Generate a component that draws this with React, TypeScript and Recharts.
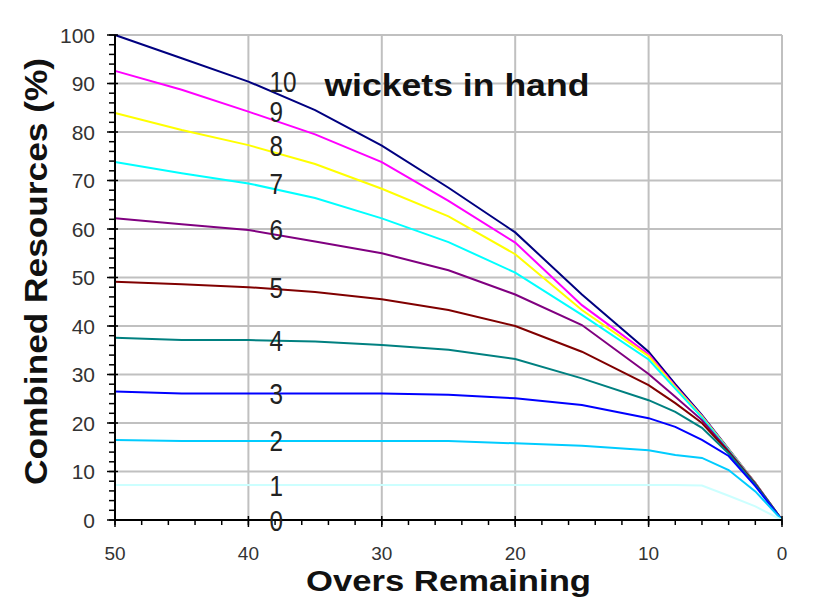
import React from "react"
import { LineChart, Line, XAxis, YAxis, ReferenceLine, ReferenceDot } from "recharts"

// overs remaining at which the curves were read
const overs = [50, 45, 40, 35, 30, 25, 20, 15, 10, 8, 6, 4, 2, 0]

// combined resources (%) by wickets in hand
const w10 = [100, 95.2, 90.4, 84.5, 77.2, 68.5, 59.3, 46.5, 34.7, 28.0, 21.6, 14.6, 7.6, 0]
const w9 = [92.6, 88.7, 84.2, 79.5, 73.8, 65.8, 57.2, 44.3, 34.2, 27.6, 21.4, 14.5, 7.6, 0]
const w8 = [83.9, 80.4, 77.3, 73.4, 68.3, 62.6, 54.8, 43.3, 33.8, 27.4, 21.3, 14.5, 7.6, 0]
const w7 = [73.8, 71.5, 69.4, 66.4, 62.2, 57.3, 51.0, 42.3, 33.1, 27.1, 21.1, 14.4, 7.5, 0]
const w6 = [62.2, 61.0, 59.8, 57.4, 55.0, 51.5, 46.5, 40.2, 30.1, 25.4, 20.6, 14.2, 7.5, 0]
const w5 = [49.1, 48.6, 48.0, 47.0, 45.5, 43.3, 40.0, 34.7, 27.8, 24.1, 20.0, 14.0, 7.4, 0]
const w4 = [37.6, 37.1, 37.1, 36.8, 36.1, 35.1, 33.2, 29.2, 24.7, 22.3, 19.0, 13.7, 7.3, 0]
const w3 = [26.5, 26.1, 26.1, 26.1, 26.1, 25.8, 25.1, 23.7, 21.0, 19.2, 16.5, 13.2, 7.0, 0]
const w2 = [16.5, 16.3, 16.3, 16.3, 16.3, 16.3, 15.8, 15.3, 14.4, 13.4, 12.8, 10.3, 5.9, 0]
const w1 = [7.2, 7.2, 7.2, 7.2, 7.2, 7.2, 7.2, 7.2, 7.2, 7.2, 7.1, 5.0, 2.8, 0]

const xTickLabels = [50, 40, 30, 20, 10, 0]
const yTickLabels = [0, 10, 20, 30, 40, 50, 60, 70, 80, 90, 100]

const series = [
  { key: "w10", label: "10", values: w10, color: "#000080" },
  { key: "w9", label: "9", values: w9, color: "#FF00FF" },
  { key: "w8", label: "8", values: w8, color: "#FFFF00" },
  { key: "w7", label: "7", values: w7, color: "#00FFFF" },
  { key: "w6", label: "6", values: w6, color: "#800080" },
  { key: "w5", label: "5", values: w5, color: "#800000" },
  { key: "w4", label: "4", values: w4, color: "#008080" },
  { key: "w3", label: "3", values: w3, color: "#0000FF" },
  { key: "w2", label: "2", values: w2, color: "#00CCFF" },
  { key: "w1", label: "1", values: w1, color: "#CCFFFF" },
]

const data = overs.map((o, i) => {
  const row: Record<string, number> = { overs: o }
  series.forEach((s) => {
    row[s.key] = s.values[i]
  })
  return row
})

const FONT = "'Liberation Sans', Arial, sans-serif"
const LABEL_AT = 40
const labelIndex = overs.indexOf(LABEL_AT)

const xMinor = Array.from({ length: 26 }, (_, i) => i * 2)
const yMinor = Array.from({ length: 51 }, (_, i) => i * 2)

// tick label props: y sits tickSize + tickMargin below the axis
function XTick(props: any) {
  const { x, y, payload } = props
  if (!xTickLabels.includes(payload.value)) return <g />
  const axisY = y - 7
  return (
    <g>
      <line x1={x} x2={x} y1={axisY - 4} y2={axisY + 7} stroke="#000" strokeWidth={1.5} />
      <text x={x} y={y + 33} textAnchor="middle" fontSize={19} fill="#333" fontFamily={FONT}>
        {payload.value}
      </text>
    </g>
  )
}

function YTick(props: any) {
  const { x, y, payload } = props
  if (!yTickLabels.includes(payload.value)) return <g />
  const axisX = x + 20
  return (
    <g>
      <line x1={axisX - 8} x2={axisX + 3} y1={y} y2={y} stroke="#000" strokeWidth={1.5} />
      <text x={x} y={y} dy="0.36em" textAnchor="end" fontSize={21} fill="#333" fontFamily={FONT}>
        {payload.value}
      </text>
    </g>
  )
}

function wicketLabel(text: string, withTitle: boolean) {
  return (props: any) => {
    const vb = props.viewBox || {}
    const cx = vb.x + (vb.width || 0) / 2
    const cy = vb.y + (vb.height || 0) / 2
    return (
      <g>
        <text
          x={cx + 21}
          y={cy + 10.5}
          fontSize={29}
          textLength={13.5 * text.length}
          lengthAdjust="spacingAndGlyphs"
          fill="#222"
          fontFamily={FONT}
        >
          {text}
        </text>
        {withTitle && (
          <text
            x={cx + 76}
            y={cy + 14}
            fontSize={32}
            fontWeight="bold"
            textLength={265}
            lengthAdjust="spacingAndGlyphs"
            fill="#111"
            fontFamily={FONT}
          >
            wickets in hand
          </text>
        )}
      </g>
    )
  }
}

function XTitle(props: any) {
  const vb = props.viewBox
  return (
    <text
      x={vb.x + vb.width / 2 - 285 / 2}
      y={vb.y + 71}
      fontSize={29}
      fontWeight="bold"
      textLength={285}
      lengthAdjust="spacingAndGlyphs"
      fontFamily={FONT}
      fill="#111"
    >
      Overs Remaining
    </text>
  )
}

function YTitle(props: any) {
  const vb = props.viewBox
  const cx = 47
  const cy = vb.y + 236.5
  return (
    <text
      x={cx - 427 / 2}
      y={cy}
      transform={`rotate(-90, ${cx}, ${cy})`}
      fontSize={31}
      fontWeight="bold"
      textLength={427}
      lengthAdjust="spacingAndGlyphs"
      fontFamily={FONT}
      fill="#111"
    >
      Combined Resources (%)
    </text>
  )
}

export default function App() {
  return (
    <div style={{ position: "absolute", left: 0, top: 0, width: 828, height: 612, background: "#fff" }}>
      <LineChart width={828} height={612} data={data} margin={{ top: 35, right: 46, bottom: 0, left: 0 }}>
        {[0, 10, 20, 30, 40].map((v) => (
          <ReferenceLine key={`gx${v}`} x={v} stroke="#C0C0C0" strokeWidth={2} />
        ))}
        {[10, 20, 30, 40, 50, 60, 70, 80, 90, 100].map((v) => (
          <ReferenceLine key={`gy${v}`} y={v} stroke="#C0C0C0" strokeWidth={2} />
        ))}
        <XAxis
          dataKey="overs"
          type="number"
          domain={[0, 50]}
          reversed
          ticks={xMinor}
          interval={0}
          height={92}
          tickSize={5}
          tickMargin={2}
          tick={<XTick />}
          axisLine={{ stroke: "#000", strokeWidth: 2 }}
          tickLine={{ stroke: "#000", strokeWidth: 1.5 }}
          label={{ content: XTitle }}
        />
        <YAxis
          type="number"
          domain={[0, 100]}
          ticks={yMinor}
          interval={0}
          width={115}
          tickSize={6}
          tickMargin={14}
          tick={<YTick />}
          axisLine={{ stroke: "#000", strokeWidth: 2 }}
          tickLine={{ stroke: "#000", strokeWidth: 1.5 }}
          label={{ content: YTitle }}
        />
        {series.map((s) => (
          <Line
            key={s.key}
            dataKey={s.key}
            stroke={s.color}
            strokeWidth={2}
            dot={false}
            type="linear"
            isAnimationActive={false}
          />
        ))}
        {series.map((s, i) => (
          <ReferenceDot
            key={`lab${s.key}`}
            x={LABEL_AT}
            y={s.values[labelIndex]}
            r={1}
            fill="none"
            stroke="none"
            label={{ content: wicketLabel(s.label, i === 0) }}
          />
        ))}
        <ReferenceDot x={LABEL_AT} y={0} r={1} fill="none" stroke="none" label={{ content: wicketLabel("0", false) }} />
      </LineChart>
    </div>
  )
}
